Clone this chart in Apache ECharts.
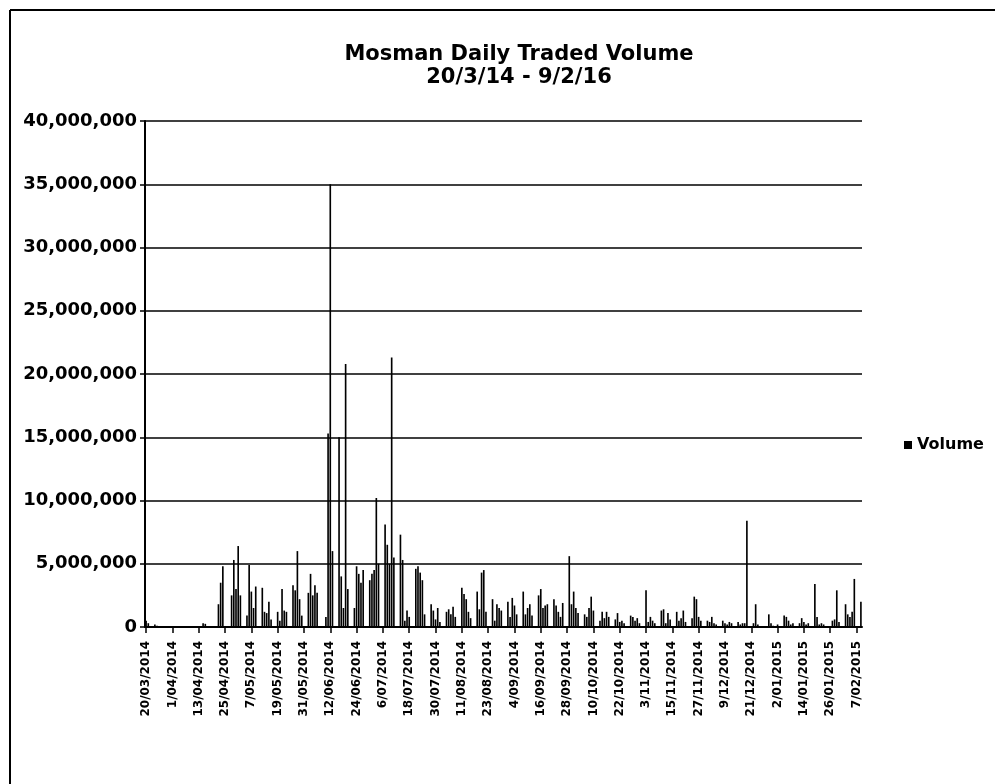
<!DOCTYPE html>
<html>
<head>
<meta charset="utf-8">
<script src="https://cdn.jsdelivr.net/npm/echarts@6/dist/echarts.min.js"></script>
<style>
html,body{margin:0;padding:0;background:#fff;}
#chart{width:995px;height:784px;}
</style>
</head>
<body>
<div id="chart"></div>
<script>
// Daily calendar from 20/03/2014 to 9/02/2015 (327 days)
var startDate = [2014, 3, 20];
var dayCount = 327;

// Daily traded volume in millions (weekends / holidays = 0), one week per line
var volumeMillions = [
  0.5, 0.3, 0, 0,
  0.2, 0.1, 0, 0, 0, 0, 0,
  0, 0, 0, 0, 0, 0, 0,
  0, 0, 0, 0, 0, 0, 0,
  0, 0.3, 0.25, 0, 0, 0, 0,
  0, 1.8, 3.5, 4.8, 0, 0, 0,
  2.5, 5.3, 3.0, 6.4, 2.5, 0, 0,
  0.9, 4.9, 2.8, 1.5, 3.2, 0, 0,
  3.1, 1.2, 1.1, 2.0, 0.6, 0, 0,
  1.2, 0.5, 3.0, 1.3, 1.2, 0, 0,
  3.3, 2.9, 6.0, 2.2, 0.9, 0, 0,
  2.7, 4.2, 2.5, 3.3, 2.7, 0, 0,
  0, 0.8, 15.3, 35.0, 6.0, 0, 0,
  15.0, 4.0, 1.5, 20.8, 3.0, 0, 0,
  1.5, 4.8, 4.2, 3.5, 4.5, 0, 0,
  3.7, 4.2, 4.5, 10.2, 5.0, 0, 0,
  8.1, 6.5, 5.0, 21.3, 5.5, 0, 0,
  7.3, 5.3, 0.5, 1.3, 0.8, 0, 0,
  4.6, 4.8, 4.3, 3.7, 1.0, 0, 0,
  1.8, 1.3, 0.6, 1.5, 0.4, 0, 0,
  1.2, 1.4, 1.0, 1.6, 0.8, 0, 0,
  3.1, 2.6, 2.2, 1.2, 0.7, 0, 0,
  2.8, 1.4, 4.3, 4.5, 1.2, 0, 0,
  2.2, 0.5, 1.8, 1.5, 1.3, 0, 0,
  2.0, 0.8, 2.3, 1.7, 1.0, 0, 0,
  2.8, 1.0, 1.5, 1.8, 0.9, 0, 0,
  2.5, 3.0, 1.5, 1.7, 1.8, 0, 0,
  2.2, 1.7, 1.2, 0.8, 1.9, 0, 0,
  5.6, 1.8, 2.8, 1.5, 1.1, 0, 0,
  1.0, 0.8, 1.5, 2.4, 1.3, 0, 0,
  0.5, 1.2, 0.7, 1.2, 0.8, 0, 0,
  0.6, 1.1, 0.4, 0.5, 0.3, 0, 0,
  0.9, 0.8, 0.5, 0.7, 0.3, 0, 0,
  2.9, 0.4, 0.8, 0.5, 0.3, 0, 0,
  1.3, 1.4, 0.3, 1.1, 0.6, 0, 0,
  1.2, 0.5, 0.7, 1.3, 0.4, 0, 0,
  0.7, 2.4, 2.2, 0.8, 0.5, 0, 0,
  0.5, 0.4, 0.8, 0.3, 0.2, 0, 0,
  0.5, 0.3, 0.2, 0.4, 0.3, 0, 0,
  0.4, 0.2, 0.3, 0.3, 8.4, 0, 0,
  0.3, 1.8, 0.2, 0, 0, 0, 0,
  1.0, 0.3, 0.1, 0, 0.2, 0, 0,
  0.9, 0.8, 0.5, 0.2, 0.3, 0, 0,
  0.3, 0.7, 0.4, 0.2, 0.3, 0, 0,
  3.4, 0.8, 0.2, 0.3, 0.2, 0, 0,
  0, 0.5, 0.6, 2.9, 0.4, 0, 0,
  1.8, 1.0, 0.8, 1.2, 3.8, 0, 0,
  2.0
];

var yTicks = [0, 5000000, 10000000, 15000000, 20000000, 25000000, 30000000, 35000000, 40000000];
var titleLines = ['Mosman Daily Traded Volume', '20/3/14 - 9/2/16'];
var seriesName = 'Volume';

// Build category labels (d/mm/yyyy)
var categories = [];
for (var i = 0; i < dayCount; i++) {
  var d = new Date(Date.UTC(startDate[0], startDate[1] - 1, startDate[2] + i));
  var mm = d.getUTCMonth() + 1;
  categories.push(d.getUTCDate() + '/' + (mm < 10 ? '0' + mm : mm) + '/' + d.getUTCFullYear());
}
var volume = volumeMillions.map(function (v) { return Math.round(v * 1000000); });

function fmt(n) {
  return String(n).replace(/\B(?=(\d{3})+(?!\d))/g, ',');
}

var chart = echarts.init(document.getElementById('chart'));
chart.setOption({
  backgroundColor: '#ffffff',
  animation: false,
  title: {
    text: titleLines.join('\n'),
    left: 514,
    textAlign: 'center',
    top: 38,
    textStyle: {
      fontFamily: 'DejaVu Sans',
      fontWeight: 'bold',
      fontSize: 21,
      lineHeight: 23,
      color: '#000'
    }
  },
  legend: {
    data: [seriesName],
    left: 899,
    top: 432,
    icon: 'rect',
    itemWidth: 8,
    itemHeight: 8,
    textStyle: {
      fontFamily: 'DejaVu Sans',
      fontSize: 16,
      fontWeight: 'bold',
      color: '#000'
    }
  },
  grid: {
    left: 145,
    right: 133,
    top: 121,
    bottom: 157,
    containLabel: false
  },
  xAxis: {
    type: 'category',
    data: categories,
    boundaryGap: true,
    axisLine: { show: true, lineStyle: { color: '#000', width: 2 } },
    axisTick: { show: true, interval: 11, alignWithLabel: true, length: 6, lineStyle: { color: '#000', width: 1.5 } },
    axisLabel: {
      interval: 11,
      rotate: 90,
      margin: 14,
      fontFamily: 'DejaVu Sans',
      fontWeight: 'bold',
      fontSize: 12,
      color: '#000'
    },
    splitLine: { show: false }
  },
  yAxis: {
    type: 'value',
    min: yTicks[0],
    max: yTicks[yTicks.length - 1],
    interval: yTicks[1] - yTicks[0],
    axisLine: { show: true, lineStyle: { color: '#000', width: 2 } },
    axisTick: { show: true, length: 5, lineStyle: { color: '#000', width: 1.5 } },
    axisLabel: {
      margin: 8,
      fontFamily: 'DejaVu Sans',
      fontWeight: 'bold',
      fontSize: 18,
      color: '#000',
      formatter: function (v) { return fmt(v); }
    },
    splitLine: { show: true, lineStyle: { color: '#000', width: 1.5 } }
  },
  graphic: [
    { type: 'line', shape: { x1: 10, y1: 10, x2: 995, y2: 10 }, style: { stroke: '#000', lineWidth: 2 } },
    { type: 'line', shape: { x1: 10, y1: 10, x2: 10, y2: 784 }, style: { stroke: '#000', lineWidth: 2 } }
  ],
  series: [{
    name: seriesName,
    type: 'bar',
    data: volume,
    barCategoryGap: '25%',
    itemStyle: { color: '#000' }
  }]
});
</script>
</body>
</html>
